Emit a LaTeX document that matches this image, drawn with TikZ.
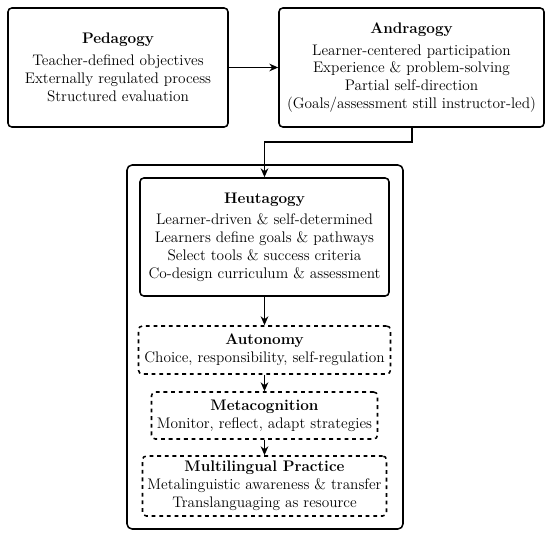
\documentclass[tikz,border=0pt]{standalone}
\usetikzlibrary{arrows.meta,positioning}
\begin{document}
\begin{tikzpicture}[x=0.785pt,y=-0.785pt,
  box/.style={draw,line width=1.2pt,rounded corners=3pt,align=center,inner sep=0pt,font=\large},
  dbox/.style={box,dashed},
  conn/.style={line width=1.2pt,-{Stealth[length=7pt,width=6pt]}}]
\useasboundingbox (0,0) rectangle (550,536);
\draw[line width=1.2pt,rounded corners=4pt] (127,165) rectangle (403,529);
\node[box,minimum width=220*0.785pt,minimum height=119*0.785pt] (ped) at (118,67.5)
  {\textbf{Pedagogy}\\[3pt]Teacher-defined objectives\\Externally regulated process\\Structured evaluation};
\node[box,minimum width=265*0.785pt,minimum height=119*0.785pt] (and) at (411.5,67.5)
  {\textbf{Andragogy}\\[3pt]Learner-centered participation\\Experience \& problem-solving\\Partial self-direction\\(Goals/assessment still instructor-led)};
\node[box,minimum width=249*0.785pt,minimum height=118*0.785pt] (heu) at (264.5,237)
  {\textbf{Heutagogy}\\[3pt]Learner-driven \& self-determined\\Learners define goals \& pathways\\Select tools \& success criteria\\Co-design curriculum \& assessment};
\node[dbox,minimum width=252*0.785pt,minimum height=48*0.785pt] (aut) at (264.5,350)
  {\textbf{Autonomy}\\Choice, responsibility, self-regulation};
\node[dbox,minimum width=226*0.785pt,minimum height=47*0.785pt] (meta) at (264.5,415.5)
  {\textbf{Metacognition}\\Monitor, reflect, adapt strategies};
\node[dbox,minimum width=244*0.785pt,minimum height=60*0.785pt] (multi) at (264.5,486)
  {\textbf{Multilingual Practice}\\Metalinguistic awareness \& transfer\\Translanguaging as resource};
\coordinate (k1) at (412,142);
\coordinate (k2) at (264.5,142);
\draw[conn] (ped.east) -- (and.west);
\draw[conn] (and.south -| k1) -- (k1) -- (k2) -- (heu.north);
\draw[conn] (heu.south) -- (aut.north);
\draw[conn] (aut.south) -- (meta.north);
\draw[conn] (meta.south) -- (multi.north);
\end{tikzpicture}
\end{document}
